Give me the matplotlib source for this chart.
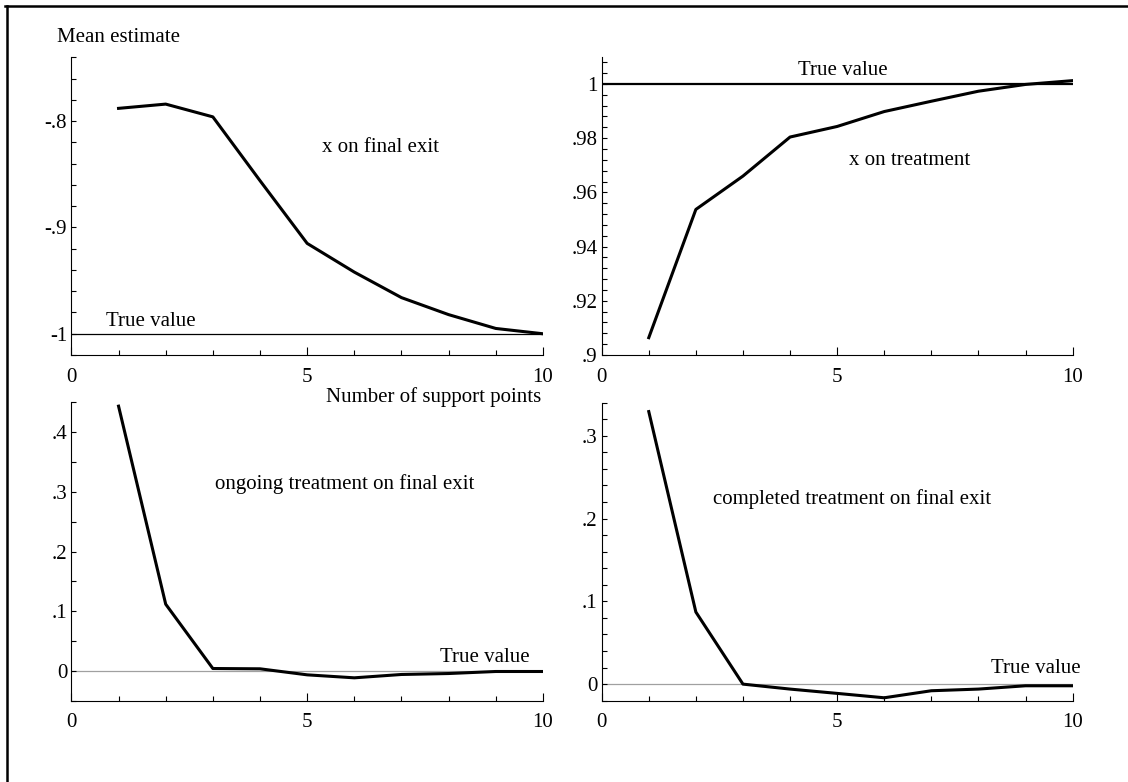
import numpy as np
import matplotlib
matplotlib.use("Agg")
import matplotlib.pyplot as plt
from matplotlib.lines import Line2D
from matplotlib.ticker import FixedLocator, MultipleLocator

plt.rcParams['font.family'] = ['Liberation Serif', 'DejaVu Serif']
plt.rcParams['font.size'] = 15

# number of support points
support = [1, 2, 3, 4, 5, 6, 7, 8, 9, 10]

# mean estimates
x_final_exit = [-0.788, -0.784, -0.796, -0.856, -0.915, -0.942, -0.966, -0.982, -0.995, -1.0]
x_treatment = [0.9064, 0.9537, 0.966, 0.9804, 0.9843, 0.9898, 0.9936, 0.9973, 0.9998, 1.0012]
ongoing_final_exit = [0.4436, 0.1117, 0.0039, 0.0034, -0.0067, -0.0117, -0.0061, -0.0045, -0.0011, -0.0011]
completed_final_exit = [0.3293, 0.0871, 0.0, -0.006, -0.0112, -0.0165, -0.008, -0.006, -0.002, -0.002]

true_values = [-1.0, 1.0, 0.0, 0.0]
panel_titles = ["x on final exit", "x on treatment",
                "ongoing treatment on final exit", "completed treatment on final exit"]

x_major = [0, 5, 10]
x_minor = [1, 2, 3, 4, 6, 7, 8, 9]

y_ticks = [
    [-1.0, -0.9, -0.8],
    [0.90, 0.92, 0.94, 0.96, 0.98, 1.0],
    [0.0, 0.1, 0.2, 0.3, 0.4],
    [0.0, 0.1, 0.2, 0.3],
]
y_ticklabels = [
    ["-1", "-.9", "-.8"],
    [".9", ".92", ".94", ".96", ".98", "1"],
    ["0", ".1", ".2", ".3", ".4"],
    ["0", ".1", ".2", ".3"],
]
y_minor_step = [0.02, 0.004, 0.05, 0.02]
y_limits = [(-1.02, -0.74), (0.9, 1.0098), (-0.05, 0.45), (-0.02, 0.34)]

fig = plt.figure(figsize=(11.28, 7.82), dpi=100)

# panel positions in figure fractions
rects = [
    [0.0633, 0.546, 0.4180, 0.3807],
    [0.5334, 0.546, 0.4175, 0.3807],
    [0.0633, 0.104, 0.4180, 0.3815],
    [0.5334, 0.104, 0.4175, 0.3810],
]
series = [x_final_exit, x_treatment, ongoing_final_exit, completed_final_exit]
true_styles = [dict(color='black', lw=0.9), dict(color='black', lw=1.6),
               dict(color='#a0a0a0', lw=0.9), dict(color='#a0a0a0', lw=0.9)]
title_pos = [(6.55, -0.8247), (6.54, 0.9718), (5.80, 0.3127), (5.32, 0.224)]
true_pos = [(1.69, -0.9884), (5.11, 1.0049), (8.76, 0.023), (9.22, 0.0193)]

for i in range(4):
    ax = fig.add_axes(rects[i])
    ax.axhline(true_values[i], xmin=0, xmax=1, zorder=1, **true_styles[i])
    ax.plot(support, series[i], color='black', lw=2.2, zorder=3)
    ax.set_xlim(0, 10)
    ax.set_ylim(*y_limits[i])

    for side in ['top', 'right']:
        ax.spines[side].set_visible(False)
    for side in ['left', 'bottom']:
        ax.spines[side].set_linewidth(0.8)

    ax.xaxis.set_major_locator(FixedLocator(x_major))
    ax.xaxis.set_minor_locator(FixedLocator(x_minor))
    ax.set_xticklabels([str(v) for v in x_major])
    ax.set_yticks(y_ticks[i])
    ax.set_yticklabels(y_ticklabels[i])
    ax.yaxis.set_minor_locator(MultipleLocator(y_minor_step[i]))

    ax.tick_params(axis='x', which='major', direction='in', length=6, width=0.8, pad=9)
    ax.tick_params(axis='x', which='minor', direction='in', length=3.6, width=0.8)
    ax.tick_params(axis='y', which='both', direction='in', length=3.6, width=0.8, pad=3)

    ax.text(*title_pos[i], panel_titles[i], ha='center', va='center')
    ax.text(*true_pos[i], "True value", ha='center', va='center')

fig.text(57 / 1128, 1 - 38 / 782, "Mean estimate", ha='left', va='center')
fig.text(541 / 1128, 1 - 397 / 782, "Number of support points", ha='right', va='center')

# frame lines on the top and left edge
fig.add_artist(Line2D([5 / 1128, 1.0], [1 - 5.5 / 782, 1 - 5.5 / 782],
                      transform=fig.transFigure, color='black', lw=1.8))
fig.add_artist(Line2D([6.5 / 1128, 6.5 / 1128], [0.0, 1 - 5.5 / 782],
                      transform=fig.transFigure, color='black', lw=1.8))

plt.savefig("out.png", dpi=100)
plt.close()
